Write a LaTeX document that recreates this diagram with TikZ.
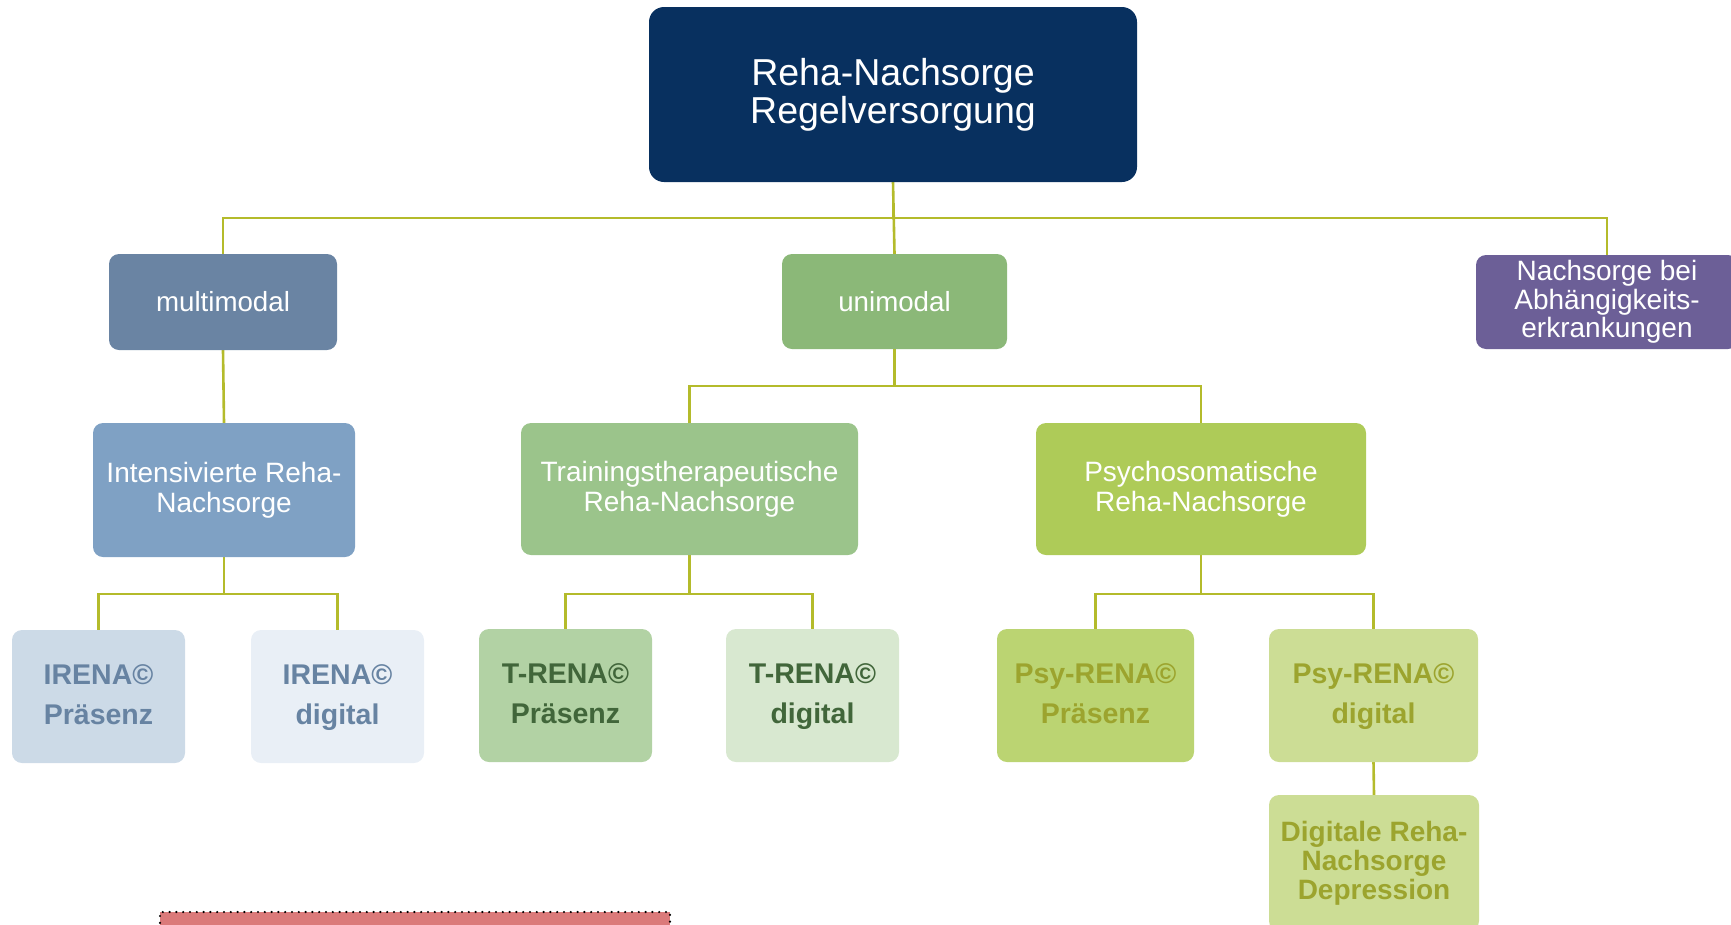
\documentclass[tikz,border=0pt]{standalone}
\usepackage{fontspec}
\setmainfont{Liberation Sans}
\usetikzlibrary{backgrounds}
\definecolor{cnavy}{HTML}{08305F}
\definecolor{cmm}{HTML}{6A84A3}
\definecolor{cuni}{HTML}{8BB878}
\definecolor{cpurple}{HTML}{6C5F97}
\definecolor{cintens}{HTML}{7FA1C4}
\definecolor{ctrain}{HTML}{9BC48B}
\definecolor{cpsycho}{HTML}{AECB58}
\definecolor{cirenaP}{HTML}{CCDAE7}
\definecolor{cirenaD}{HTML}{E9EFF6}
\definecolor{ctrenaP}{HTML}{B2D2A4}
\definecolor{ctrenaD}{HTML}{D8E8D0}
\definecolor{cpsyP}{HTML}{BBD472}
\definecolor{cpsyD}{HTML}{CCDD95}
\definecolor{tblue}{HTML}{6783A2}
\definecolor{tgreen}{HTML}{41663A}
\definecolor{tolive}{HTML}{9CA42E}
\definecolor{cline}{HTML}{B4BB2B}
\definecolor{cred}{HTML}{DB7A7A}
\begin{document}
\begin{tikzpicture}[x=1pt,y=-1pt,
  box/.style={rounded corners=10pt, inner sep=0pt, align=center, text=white},
  midbox/.style={box, font=\fontsize{28}{30}\selectfont},
  leafbox/.style={box, font=\bfseries\fontsize{28.5}{39.5}\selectfont, minimum width=173pt, minimum height=133pt},
  conn/.style={draw=cline, line width=2.6pt}]
\useasboundingbox (0,0) rectangle (1731,924);

\node[box, fill=cnavy, rounded corners=15pt, minimum width=488pt, minimum height=175pt,
  font=\fontsize{37.5}{38}\selectfont] (top) at (893,94.5) {\raisebox{-1.5pt}{Reha-Nachsorge}\\\raisebox{-1.5pt}{Regelversorgung}};

\node[midbox, fill=cmm, minimum width=228pt, minimum height=96pt, font=\fontsize{27.7}{30}\selectfont] (mm) at (223,302) {multimodal};
\node[midbox, fill=cuni, minimum width=225pt, minimum height=95pt, font=\fontsize{27.7}{30}\selectfont] (uni) at (894.5,301.5) {unimodal};
\node[box, fill=cpurple, minimum width=262pt, minimum height=94pt,
  font=\fontsize{28}{28.5}\selectfont] (abh) at (1607,302) {Nachsorge bei\\Abhängigkeits-\\erkrankungen};

\node[midbox, fill=cintens, minimum width=262pt, minimum height=134pt] (int) at (224,490) {Intensivierte Reha-\\Nachsorge};
\node[midbox, fill=ctrain, minimum width=337pt, minimum height=132pt] (tr) at (689.5,489) {Trainingstherapeutische\\Reha-Nachsorge};
\node[midbox, fill=cpsycho, minimum width=330pt, minimum height=132pt] (ps) at (1201,489) {Psychosomatische\\Reha-Nachsorge};

\node[leafbox, fill=cirenaP, text=tblue] (irp) at (98.5,696.5) {IRENA©\strut\\Präsenz\strut};
\node[leafbox, fill=cirenaD, text=tblue] (ird) at (337.5,696.5) {IRENA©\strut\\digital\strut};
\node[leafbox, fill=ctrenaP, text=tgreen] (trp) at (565.5,695.5) {T-RENA©\strut\\Präsenz\strut};
\node[leafbox, fill=ctrenaD, text=tgreen] (trd) at (812.5,695.5) {T-RENA©\strut\\digital\strut};
\node[leafbox, fill=cpsyP, text=tolive, minimum width=197pt] (psp) at (1095.5,695.5) {Psy-RENA©\strut\\Präsenz\strut};
\node[leafbox, fill=cpsyD, text=tolive, minimum width=209pt] (psd) at (1373.5,695.5) {Psy-RENA©\strut\\digital\strut};
\node[box, fill=cpsyD, text=tolive, minimum width=210pt, minimum height=136pt,
  font=\bfseries\fontsize{28}{29}\selectfont] (dig) at (1374,863) {Digitale Reha-\\Nachsorge\\Depression};

\node[draw=black, fill=cred, line width=2.4pt, line cap=round, dash pattern=on 0pt off 6.8pt,
  minimum width=510pt, minimum height=30pt, inner sep=0pt] (red) at (415,927) {};

\coordinate (b1) at (0,218);
\coordinate (b2) at (0,386);
\coordinate (b3) at (0,594);

\begin{scope}[on background layer]
\draw[conn] (top.south) -- (top.south |- b1) -| (mm.north);
\draw[conn] (top.south |- b1) -| (abh.north);
\draw[conn] (top.south) -- (uni.north);
\draw[conn] (mm.south) -- (int.north);
\draw[conn] (uni.south) -- (uni.south |- b2) -| (tr.north);
\draw[conn] (uni.south |- b2) -| (ps.north);
\draw[conn] (int.south) -- (int.south |- b3) -| (irp.north);
\draw[conn] (int.south |- b3) -| (ird.north);
\draw[conn] (tr.south) -- (tr.south |- b3) -| (trp.north);
\draw[conn] (tr.south |- b3) -| (trd.north);
\draw[conn] (ps.south) -- (ps.south |- b3) -| (psp.north);
\draw[conn] (ps.south |- b3) -| (psd.north);
\draw[conn] (psd.south) -- (dig.north);
\end{scope}
\end{tikzpicture}
\end{document}
